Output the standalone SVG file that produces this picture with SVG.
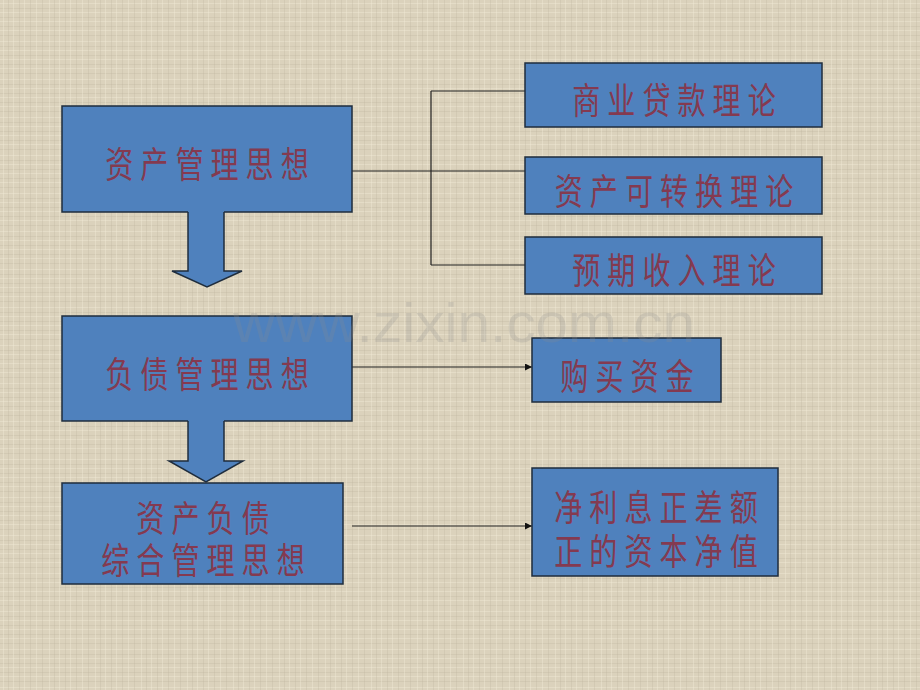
<svg xmlns="http://www.w3.org/2000/svg" width="920" height="690" viewBox="0 0 920 690">
  <defs>
    <pattern id="linen" x="0" y="0" width="46" height="38" patternUnits="userSpaceOnUse">
      <rect width="46" height="38" fill="#DBD2BC"/>
      <path d="M0 3.5H46M0 12.5H46M0 21.5H46M0 30.5H46" stroke="#EFE8D5" stroke-width="1" opacity="0.45"/>
      <path d="M0 8.5H46M0 17.5H46M0 26.5H46M0 35.5H46" stroke="#BDB39D" stroke-width="1" opacity="0.3"/>
      <path d="M3.5 0V38M13.5 0V38M24.5 0V38M36.5 0V38" stroke="#F1EAD7" stroke-width="1" opacity="0.4"/>
      <path d="M8.5 0V38M19.5 0V38M30.5 0V38M42.5 0V38" stroke="#B9AF99" stroke-width="1" opacity="0.28"/>
    </pattern>
    <marker id="ah" viewBox="0 0 10 10" refX="10" refY="5" markerWidth="8" markerHeight="7" markerUnits="userSpaceOnUse" orient="auto">
      <path d="M0 0L10 5L0 10Z" fill="#111"/>
    </marker>
    <style>
      .box { fill:#4F81BD; stroke:#1F2D3D; stroke-width:1.5; }
      .blk { fill:#4F81BD; stroke:none; }
      .blkline { fill:none; stroke:#1F2D3D; stroke-width:1.5; stroke-linejoin:miter; }
      .t { font-family:"Noto Sans CJK SC","Noto Sans CJK TC",sans-serif; font-size:36px; fill:#843A50; letter-spacing:9px; text-anchor:middle; dominant-baseline:central; }
      .conn { fill:none; stroke:#222; stroke-width:1.2; }
      .wm { font-family:"Liberation Sans",Arial,sans-serif; font-size:56px; fill:#8C8C8C; opacity:0.22; }
    </style>
  </defs>

  <rect width="920" height="690" fill="url(#linen)"/>

  <g id="connectors">
    <path class="conn" d="M352 171H525M431 91V265M431 91H525M431 265H525"/>
    <path class="conn" d="M352 367H532" marker-end="url(#ah)"/>
    <path class="conn" d="M352 526H532" marker-end="url(#ah)"/>
  </g>

  <g id="n1">
    <rect class="box" x="62" y="106" width="290" height="106"/>
    <text class="t" x="4.5" transform="translate(207,162) scale(0.78,1)">资产管理思想</text>
  </g>

  <g id="arrow1">
    <polygon class="blk" points="188,210 224,210 224,271 242,271 207,287 172,271 188,271"/>
    <polyline class="blkline" points="188,212 188,271 172,271 207,287 242,271 224,271 224,212"/>
  </g>

  <g id="n2">
    <rect class="box" x="62" y="316" width="290" height="105"/>
    <text class="t" x="4.5" transform="translate(207,372) scale(0.78,1)">负债管理思想</text>
  </g>

  <g id="arrow2">
    <polygon class="blk" points="188,419 224,419 224,461 243,461 206,482 169,461 188,461"/>
    <polyline class="blkline" points="188,421 188,461 169,461 206,482 243,461 224,461 224,421"/>
  </g>

  <g id="n3">
    <rect class="box" x="62" y="483" width="281" height="101"/>
    <text class="t" transform="translate(203,0) scale(0.78,1)"><tspan x="4.5" y="516">资产负债</tspan><tspan x="4.5" y="558">综合管理思想</tspan></text>
  </g>

  <g id="nA">
    <rect class="box" x="525" y="63" width="297" height="64"/>
    <text class="t" x="4.5" transform="translate(674,98) scale(0.78,1)">商业贷款理论</text>
  </g>

  <g id="nB">
    <rect class="box" x="525" y="157" width="297" height="57"/>
    <text class="t" x="4.5" transform="translate(674,189) scale(0.78,1)">资产可转换理论</text>
  </g>

  <g id="nC">
    <rect class="box" x="525" y="237" width="297" height="57"/>
    <text class="t" x="4.5" transform="translate(674,268) scale(0.78,1)">预期收入理论</text>
  </g>

  <g id="nD">
    <rect class="box" x="532" y="338" width="189" height="64"/>
    <text class="t" x="4.5" transform="translate(627,374) scale(0.78,1)">购买资金</text>
  </g>

  <g id="nE">
    <rect class="box" x="532" y="468" width="246" height="108"/>
    <text class="t" transform="translate(656,0) scale(0.78,1)"><tspan x="4.5" y="505">净利息正差额</tspan><tspan x="4.5" y="549">正的资本净值</tspan></text>
  </g>

  <text class="wm" x="233" y="342" textLength="462" lengthAdjust="spacingAndGlyphs">www.zixin.com.cn</text>
</svg>
